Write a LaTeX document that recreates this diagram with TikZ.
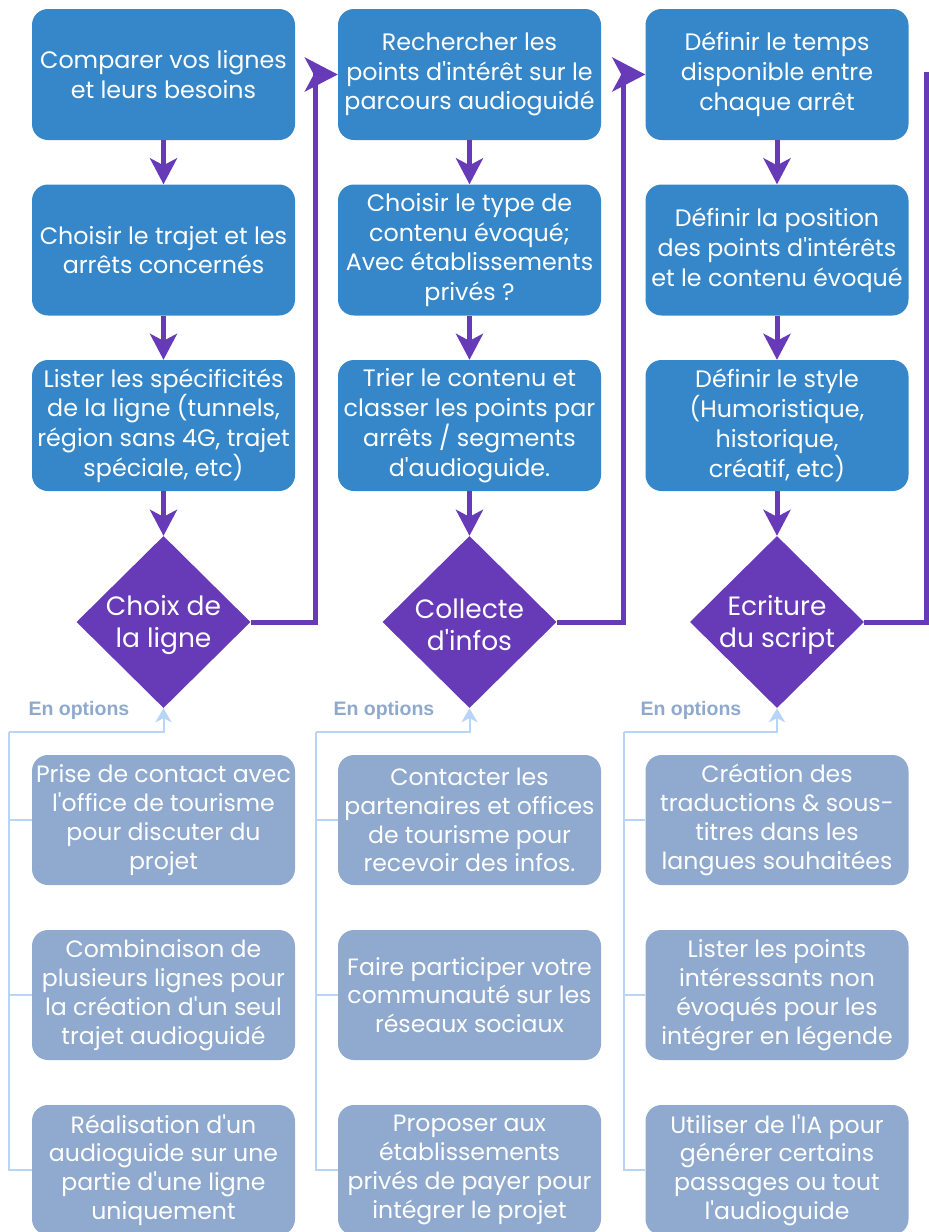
\documentclass[tikz,border=0pt]{standalone}
\usepackage{fontspec}
\setmainfont{Poppins}[Ligatures=TeXOff]
\newfontfamily\optfont{Liberation Sans}
\usetikzlibrary{shapes.geometric,arrows.meta}
\definecolor{bluebox}{HTML}{3587CA}
\definecolor{purp}{HTML}{673AB7}
\definecolor{lightbox}{HTML}{8FAACE}
\definecolor{lightline}{HTML}{B8D5F6}
\definecolor{opttext}{HTML}{8FA9CC}
\tikzset{
  bbox/.style={rectangle, rounded corners=16pt, fill=bluebox, minimum width=263pt, minimum height=131pt, inner sep=0pt, text=white, align=center, font=\fontsize{23.8}{29.8}\selectfont},
  lbox/.style={rectangle, rounded corners=16pt, fill=lightbox, minimum width=263pt, minimum height=130pt, inner sep=0pt, text=white, align=center, font=\fontsize{23.6}{28.8}\selectfont},
  dia/.style={diamond, fill=purp, minimum width=174pt, minimum height=172pt, inner sep=0pt},
  diatext/.style={text=white, align=center, font=\fontsize{26.5}{31.5}\selectfont},
  varrow/.style={draw=purp, line width=5pt, -{Stealth[length=26pt,width=27pt,inset=7pt]}},
  harrow/.style={draw=purp, line width=5pt, -{Stealth[length=33pt,width=34pt,inset=9pt]}},
  pline/.style={draw=purp, line width=5pt},
  lline/.style={draw=lightline, line width=2pt},
  larrow/.style={draw=lightline, line width=2pt, -{Stealth[length=14pt,width=16pt,inset=4pt]}},
  opt/.style={text=opttext, font=\optfont\bfseries\fontsize{19.5}{22}\selectfont},
}
\begin{document}
\begin{tikzpicture}[x=1pt,y=-1pt]
\useasboundingbox (0,0) rectangle (929,1232);
% column 1
\node[bbox] (a1) at (163.5,74.5) {Comparer vos lignes\\et leurs besoins};
\node[bbox] (a2) at (163.5,250) {Choisir le trajet et les\\arrêts concernés};
\node[bbox] (a3) at (163.5,425.5) {Lister les spécificités\\de la ligne (tunnels,\\région sans 4G, trajet\\spéciale, etc)};
\node[dia] (d1) at (163.5,622) {};
\node[diatext] at ([yshift=-3pt]d1.center) {Choix de\\la ligne};
\node[lbox] (l11) at (163.5,820) {Prise de contact avec\\l'office de tourisme\\pour discuter du\\projet};
\node[lbox] (l12) at (163.5,995) {Combinaison de\\plusieurs lignes pour\\la création d'un seul\\trajet audioguidé};
\node[lbox] (l13) at (163.5,1170) {Réalisation d'un\\audioguide sur une\\partie d'une ligne\\uniquement};
\node[opt, anchor=west] (o1) at (25,710) {En options};
% column 2
\node[bbox] (b1) at (469.5,74.5) {Rechercher les\\points d'intérêt sur le\\parcours audioguidé};
\node[bbox] (b2) at (469.5,250) {Choisir le type de\\contenu évoqué;\\Avec établissements\\privés ?};
\node[bbox] (b3) at (469.5,425.5) {Trier le contenu et\\classer les points par\\arrêts / segments\\d'audioguide.};
\node[dia] (d2) at (469.5,622) {};
\node[diatext] at ([yshift=-3pt]d2.center) {Collecte\\d'infos};
\node[lbox] (l21) at (469.5,820) {Contacter les\\partenaires et offices\\de tourisme pour\\recevoir des infos.};
\node[lbox] (l22) at (469.5,995) {Faire participer votre\\communauté sur les\\réseaux sociaux};
\node[lbox] (l23) at (469.5,1170) {Proposer aux\\établissements\\privés de payer pour\\intégrer le projet};
\node[opt, anchor=west] (o2) at (330,710) {En options};
% column 3
\node[bbox] (c1) at (777,74.5) {Définir le temps\\disponible entre\\chaque arrêt};
\node[bbox] (c2) at (777,250) {Définir la position\\des points d'intérêts\\et le contenu évoqué};
\node[bbox] (c3) at (777,425.5) {Définir le style\\(Humoristique,\\historique,\\créatif, etc)};
\node[dia] (d3) at (777,622) {};
\node[diatext] at ([yshift=-3pt]d3.center) {Ecriture\\du script};
\node[lbox] (l31) at (777,820) {Création des\\traductions \& sous-\\titres dans les\\langues souhaitées};
\node[lbox] (l32) at (777,995) {Lister les points\\intéressants non\\évoqués pour les\\intégrer en légende};
\node[lbox] (l33) at (777,1170) {Utiliser de l'IA pour\\générer certains\\passages ou tout\\l'audioguide};
\node[opt, anchor=west] (o3) at (637,710) {En options};
% coordinates
\coordinate (k1) at (9,732);
\coordinate (k2) at (316,732);
\coordinate (k3) at (624,732);
\coordinate (p1) at (315,622);
\coordinate (p2) at (623,622);
\coordinate (p3) at (926,622);
\coordinate (q3) at (926,72);
% purple vertical arrows
\foreach \u/\v in {a1/a2,a2/a3,a3/d1,b1/b2,b2/b3,b3/d2,c1/c2,c2/c3,c3/d3}
  \draw[varrow] (\u.south) -- (\v.north);
% purple loops
\draw[harrow] (d1.east) -- (p1) |- (b1.west);
\draw[harrow] (d2.east) -- (p2) |- (c1.west);
\draw[pline] (d3.east) -- (p3) -- (q3);
% light connectors
\draw[lline] (l13.west) -| (k1);
\draw[lline] (l12.west) -- (l12.west -| k1);
\draw[lline] (l11.west) -- (l11.west -| k1);
\draw[larrow] (k1) -| (d1.south);
\draw[lline] (l23.west) -| (k2);
\draw[lline] (l22.west) -- (l22.west -| k2);
\draw[lline] (l21.west) -- (l21.west -| k2);
\draw[larrow] (k2) -| (d2.south);
\draw[lline] (l33.west) -| (k3);
\draw[lline] (l32.west) -- (l32.west -| k3);
\draw[lline] (l31.west) -- (l31.west -| k3);
\draw[larrow] (k3) -| (d3.south);
\end{tikzpicture}
\end{document}
